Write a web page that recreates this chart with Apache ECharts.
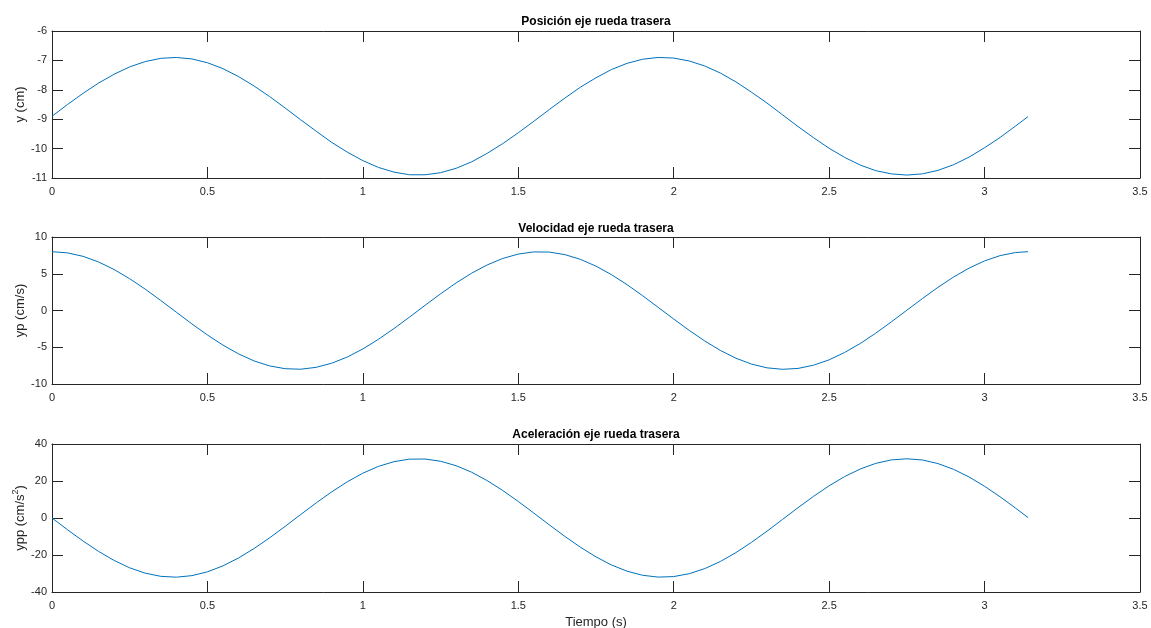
<!DOCTYPE html>
<html>
<head>
<meta charset="utf-8">
<script src="https://cdn.jsdelivr.net/npm/echarts@6/dist/echarts.min.js"></script>
<style>
  html, body { margin: 0; padding: 0; background: #ffffff; }
  #chart { width: 1151px; height: 628px; }
</style>
</head>
<body>
<div id="chart"></div>
<script>
// Sample times (s)
const tiempo = [0, 0.05, 0.1, 0.15, 0.2, 0.25, 0.3, 0.35, 0.4, 0.45, 0.5, 0.55, 0.6, 0.65,
  0.7, 0.75, 0.8, 0.85, 0.9, 0.95, 1.0, 1.05, 1.1, 1.15, 1.2, 1.25, 1.3, 1.35, 1.4, 1.45,
  1.5, 1.55, 1.6, 1.65, 1.7, 1.75, 1.8, 1.85, 1.9, 1.95, 2.0, 2.05, 2.1, 2.15, 2.2, 2.25,
  2.3, 2.35, 2.4, 2.45, 2.5, 2.55, 2.6, 2.65, 2.7, 2.75, 2.8, 2.85, 2.9, 2.95, 3.0, 3.05,
  3.1, 3.14];

// Rear axle position y (cm)
const posicion = [-8.90, -8.50, -8.12, -7.77, -7.47, -7.22, -7.04, -6.93, -6.90, -6.95,
  -7.08, -7.28, -7.55, -7.87, -8.23, -8.62, -9.02, -9.41, -9.79, -10.12, -10.41, -10.64,
  -10.80, -10.89, -10.89, -10.82, -10.67, -10.45, -10.16, -9.83, -9.46, -9.07, -8.67,
  -8.28, -7.91, -7.59, -7.31, -7.10, -6.96, -6.90, -6.92, -7.02, -7.19, -7.43, -7.73,
  -8.08, -8.45, -8.85, -9.25, -9.63, -9.99, -10.30, -10.56, -10.75, -10.86, -10.90,
  -10.86, -10.74, -10.55, -10.29, -9.97, -9.62, -9.23, -8.91];

// Rear axle velocity yp (cm/s)
const velocidad = [8.00, 7.84, 7.37, 6.60, 5.57, 4.32, 2.90, 1.36, -0.23, -1.82, -3.33,
  -4.71, -5.90, -6.86, -7.54, -7.92, -7.99, -7.73, -7.17, -6.33, -5.23, -3.92, -2.46,
  -0.90, 0.70, 2.27, 3.75, 5.08, 6.20, 7.08, 7.68, 7.97, 7.95, 7.60, 6.96, 6.03, 4.87,
  3.51, 2.01, 0.43, -1.16, -2.71, -4.15, -5.43, -6.49, -7.29, -7.80, -8.00, -7.88, -7.44,
  -6.71, -5.71, -4.49, -3.08, -1.55, 0.04, 1.62, 3.15, 4.55, 5.76, 6.75, 7.47, 7.89, 8.00];

// Rear axle acceleration ypp (cm/s^2)
const aceleracion = [0.00, -6.36, -12.46, -18.07, -22.96, -26.93, -29.82, -31.53, -31.99,
  -31.16, -29.10, -25.87, -21.62, -16.50, -10.72, -4.52, 1.87, 8.18, 14.16, 19.58, 24.22,
  27.89, 30.45, 31.80, 31.88, 30.68, 28.27, 24.73, 20.20, 14.87, 8.94, 2.66, -3.73, -9.97,
  -15.81, -21.02, -25.40, -28.76, -30.97, -31.95, -31.66, -30.10, -27.35, -23.50, -18.72,
  -13.19, -7.13, -0.79, 5.58, 11.73, 17.41, 22.40, 26.49, 29.53, 31.40, 32.00, 31.37,
  29.42, 26.33, 22.19, 17.17, 11.46, 5.30, 0.20];

const titulos = ['Posición eje rueda trasera', 'Velocidad eje rueda trasera', 'Aceleración eje rueda trasera'];
const ejeX = { min: 0, max: 3.5, interval: 0.5 };
const ejesY = [
  { min: -11, max: -6, interval: 1 },
  { min: -10, max: 10, interval: 5 },
  { min: -40, max: 40, interval: 20 }
];
const nombresY = ['y (cm)', 'yp (cm/s)', '{a|ypp (cm/s}{s|2}{a|)}'];
const series = [posicion, velocidad, aceleracion];

const AX = '#262626';
const FONT = 'Liberation Sans, Arial, Helvetica, sans-serif';
const grids = [
  { left: 52, right: 11, top: 31, height: 147, outerBoundsMode: 'none', containLabel: false },
  { left: 52, right: 11, top: 237, height: 147, outerBoundsMode: 'none', containLabel: false },
  { left: 52, right: 11, top: 444, height: 148, outerBoundsMode: 'none', containLabel: false }
];
const titleTops = [16, 223, 429];

const option = {
  backgroundColor: '#ffffff',
  animation: false,
  textStyle: { fontFamily: FONT },
  title: titulos.map((t, i) => ({
    text: t,
    left: 596,
    top: titleTops[i],
    textAlign: 'center',
    padding: 0,
    textStyle: { fontFamily: FONT, fontSize: 12, fontWeight: 'bold', color: '#000000' }
  })),
  grid: grids,
  xAxis: [],
  yAxis: [],
  series: []
};

for (let i = 0; i < 3; i++) {
  const tick = { show: true, inside: true, length: 11, lineStyle: { color: AX, width: 1 } };
  const line = { show: true, onZero: false, lineStyle: { color: AX, width: 1 } };
  // bottom x axis with labels
  option.xAxis.push(Object.assign({
    type: 'value', gridIndex: i, position: 'bottom',
    axisLine: line, axisTick: tick, splitLine: { show: false },
    axisLabel: { color: AX, fontSize: 11, fontFamily: FONT, margin: 8 },
    name: i === 2 ? 'Tiempo (s)' : '',
    nameLocation: 'middle', nameGap: 24,
    nameTextStyle: { color: AX, fontSize: 13, fontFamily: FONT }
  }, ejeX));
  // top x axis: ticks only
  option.xAxis.push(Object.assign({
    type: 'value', gridIndex: i, position: 'top',
    axisLine: line, axisTick: tick, splitLine: { show: false },
    axisLabel: { show: false }
  }, ejeX));
  // left y axis with labels
  option.yAxis.push(Object.assign({
    type: 'value', gridIndex: i, position: 'left',
    axisLine: line, axisTick: tick, splitLine: { show: false },
    axisLabel: { color: AX, fontSize: 11, fontFamily: FONT, margin: 5 },
    name: nombresY[i], nameLocation: 'middle', nameGap: 25, nameRotate: 90,
    nameMoveOverlap: false,
    nameTextStyle: {
      color: AX, fontSize: 13, fontFamily: FONT,
      rich: {
        a: { fontSize: 13, color: AX, fontFamily: FONT, lineHeight: 16, verticalAlign: 'bottom' },
        s: { fontSize: 9, color: AX, fontFamily: FONT, lineHeight: 16, verticalAlign: 'top' }
      }
    }
  }, ejesY[i]));
  // right y axis: ticks only
  option.yAxis.push(Object.assign({
    type: 'value', gridIndex: i, position: 'right',
    axisLine: line, axisTick: tick, splitLine: { show: false },
    axisLabel: { show: false }
  }, ejesY[i]));

  option.series.push({
    type: 'line',
    xAxisIndex: 2 * i,
    yAxisIndex: 2 * i,
    data: tiempo.map((t, k) => [t, series[i][k]]),
    smooth: false,
    showSymbol: false,
    lineStyle: { color: '#0072BD', width: 1 },
    itemStyle: { color: '#0072BD' }
  });
}

const chart = echarts.init(document.getElementById('chart'), null, { renderer: 'canvas' });
chart.setOption(option);
</script>
</body>
</html>
